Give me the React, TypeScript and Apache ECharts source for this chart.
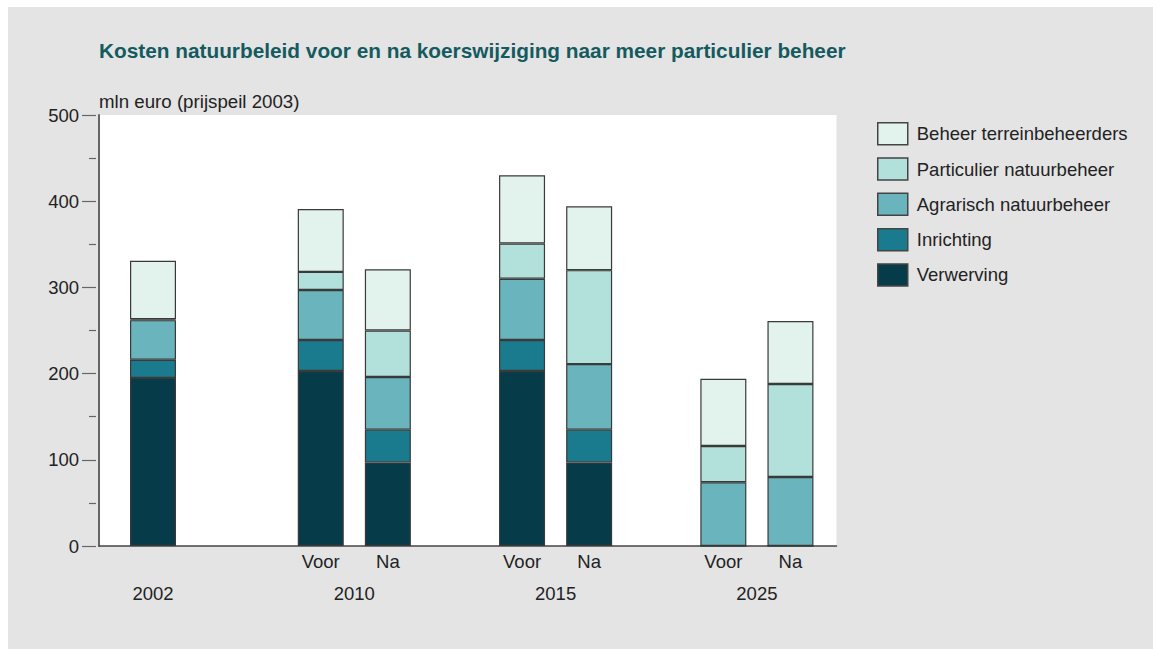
import React, { useEffect, useRef } from "react";
import * as echarts from "echarts";

// ---- data ----
const barLabels = ["", "Voor", "Na", "Voor", "Na", "Voor", "Na"];
const years = ["2002", "2010", "2015", "2025"];
const seriesNames = [
  "Verwerving",
  "Inrichting",
  "Agrarisch natuurbeheer",
  "Particulier natuurbeheer",
  "Beheer terreinbeheerders",
];
const verwerving = [195, 203, 97, 203, 97, 0, 0];
const inrichting = [21, 36, 38, 36, 38, 0, 0];
const agrarisch = [46, 58, 61, 71, 76, 74, 80];
const particulier = [1, 21, 54, 41, 109, 42, 108];
const beheer = [68, 73, 71, 79, 74, 78, 73];

// ---- layout: slot index of each bar / year group on a 22-slot category axis ----
const SLOT_COUNT = 22;
const barSlots = [1, 6, 8, 12, 14, 18, 20];
const yearSlots = [1, 7, 13, 19];

const colors = ["#063c4a", "#1a7b8e", "#69b4bd", "#b2e0db", "#e2f2ec"];
const FONT = "'Liberation Sans', Arial, sans-serif";

export default function App() {
  const ref = useRef<HTMLDivElement>(null);
  useEffect(() => {
    document.body.style.margin = "0";
    const chart = echarts.init(ref.current!, null, { renderer: "svg" });

    const slotCats = (labels: string[], slots: number[]) => {
      const arr: string[] = new Array(SLOT_COUNT).fill("");
      slots.forEach((s, i) => (arr[s] = labels[i]));
      return arr;
    };
    const toSlots = (vals: number[]) => {
      const arr: (number | string)[] = new Array(SLOT_COUNT).fill("-");
      barSlots.forEach((s, i) => (arr[s] = vals[i]));
      return arr;
    };

    const values = [verwerving, inrichting, agrarisch, particulier, beheer];
    const series = values.map((vals, si) => ({
      name: seriesNames[si],
      type: "bar",
      stack: "total",
      barWidth: 46,
      xAxisIndex: 1,
      yAxisIndex: 2,
      data: toSlots(vals),
      itemStyle: { color: colors[si], borderColor: "#3a3a3a", borderWidth: 1.2 },
      emphasis: { disabled: true },
    }));

    const plotLeft = 99;
    const plotRight = 836.5;
    const slotW = 67.1 / 2;
    const barLeft = 153 - 1.5 * slotW;
    const barRight = barLeft + SLOT_COUNT * slotW;
    const top = 115;
    const bottom = 649 - 546;

    const labelStyle = { fontSize: 18.5, color: "#222", fontFamily: FONT };

    chart.setOption({
      animation: false,
      textStyle: { fontFamily: FONT },
      graphic: [
        {
          type: "rect",
          z: -10,
          silent: true,
          shape: { x: 8, y: 7, width: 1145, height: 642 },
          style: { fill: "#e4e4e4" },
        },
        {
          type: "text",
          x: 99,
          y: 50,
          style: {
            text: "Kosten natuurbeleid voor en na koerswijziging naar meer particulier beheer",
            fill: "#145a5f",
            font: `bold 20.8px ${FONT}`,
            verticalAlign: "middle",
          },
        },
        {
          type: "text",
          x: 99,
          y: 101,
          style: {
            text: "mln euro (prijspeil 2003)",
            fill: "#222",
            font: `18.7px ${FONT}`,
            verticalAlign: "middle",
          },
        },
      ],
      grid: [
        {
          left: plotLeft,
          right: 1153 - plotRight,
          top,
          bottom,
          show: true,
          backgroundColor: "#ffffff",
          borderWidth: 0,
        },
        {
          left: barLeft,
          right: 1153 - barRight,
          top,
          bottom,
          show: false,
        },
      ],
      legend: {
        orient: "vertical",
        left: 872,
        top: 117,
        icon: "rect",
        itemWidth: 30,
        itemHeight: 22,
        itemGap: 11.8,
        data: [...seriesNames].reverse(),
        itemStyle: { borderColor: "#444", borderWidth: 1.5 },
        textStyle: {
          fontSize: 18.5,
          color: "#222",
          fontFamily: FONT,
          padding: [0, 0, 0, 4],
          lineHeight: 22,
        },
        selectedMode: false,
      },
      xAxis: [
        {
          type: "value",
          gridIndex: 0,
          min: 0,
          max: 1,
          axisLine: { show: true, onZero: false, lineStyle: { color: "#444", width: 1.5 } },
          axisTick: { show: false },
          splitLine: { show: false },
          axisLabel: { show: false },
        },
        {
          type: "category",
          gridIndex: 1,
          data: slotCats(barLabels, barSlots),
          axisLine: { show: false, onZero: false },
          axisTick: { show: false },
          axisLabel: { interval: 0, margin: 6, ...labelStyle },
        },
        {
          type: "category",
          gridIndex: 1,
          position: "bottom",
          data: slotCats(years, yearSlots),
          axisLine: { show: false, onZero: false },
          axisTick: { show: false },
          axisLabel: { interval: 0, margin: 38, ...labelStyle },
        },
      ],
      yAxis: [
        {
          type: "value",
          gridIndex: 0,
          min: 0,
          max: 500,
          interval: 100,
          axisLine: { show: true, onZero: false, lineStyle: { color: "#666", width: 2 } },
          axisTick: { show: false },
          axisLabel: { show: false },
          splitLine: { show: false },
        },
        {
          type: "value",
          gridIndex: 0,
          position: "left",
          offset: 3,
          min: 0,
          max: 500,
          interval: 100,
          axisLine: { show: false, onZero: false },
          axisTick: { show: true, length: 14, lineStyle: { color: "#666", width: 1.2 } },
          minorTick: { show: true, splitNumber: 2, length: 7, lineStyle: { color: "#666", width: 1.2 } },
          axisLabel: { margin: 17, ...labelStyle },
          splitLine: { show: false },
        },
        {
          type: "value",
          gridIndex: 1,
          min: 0,
          max: 500,
          interval: 100,
          show: false,
        },
      ],
      series,
    });
    return () => chart.dispose();
  }, []);
  return <div ref={ref} style={{ width: 1153, height: 649, background: "#fff" }} />;
}
